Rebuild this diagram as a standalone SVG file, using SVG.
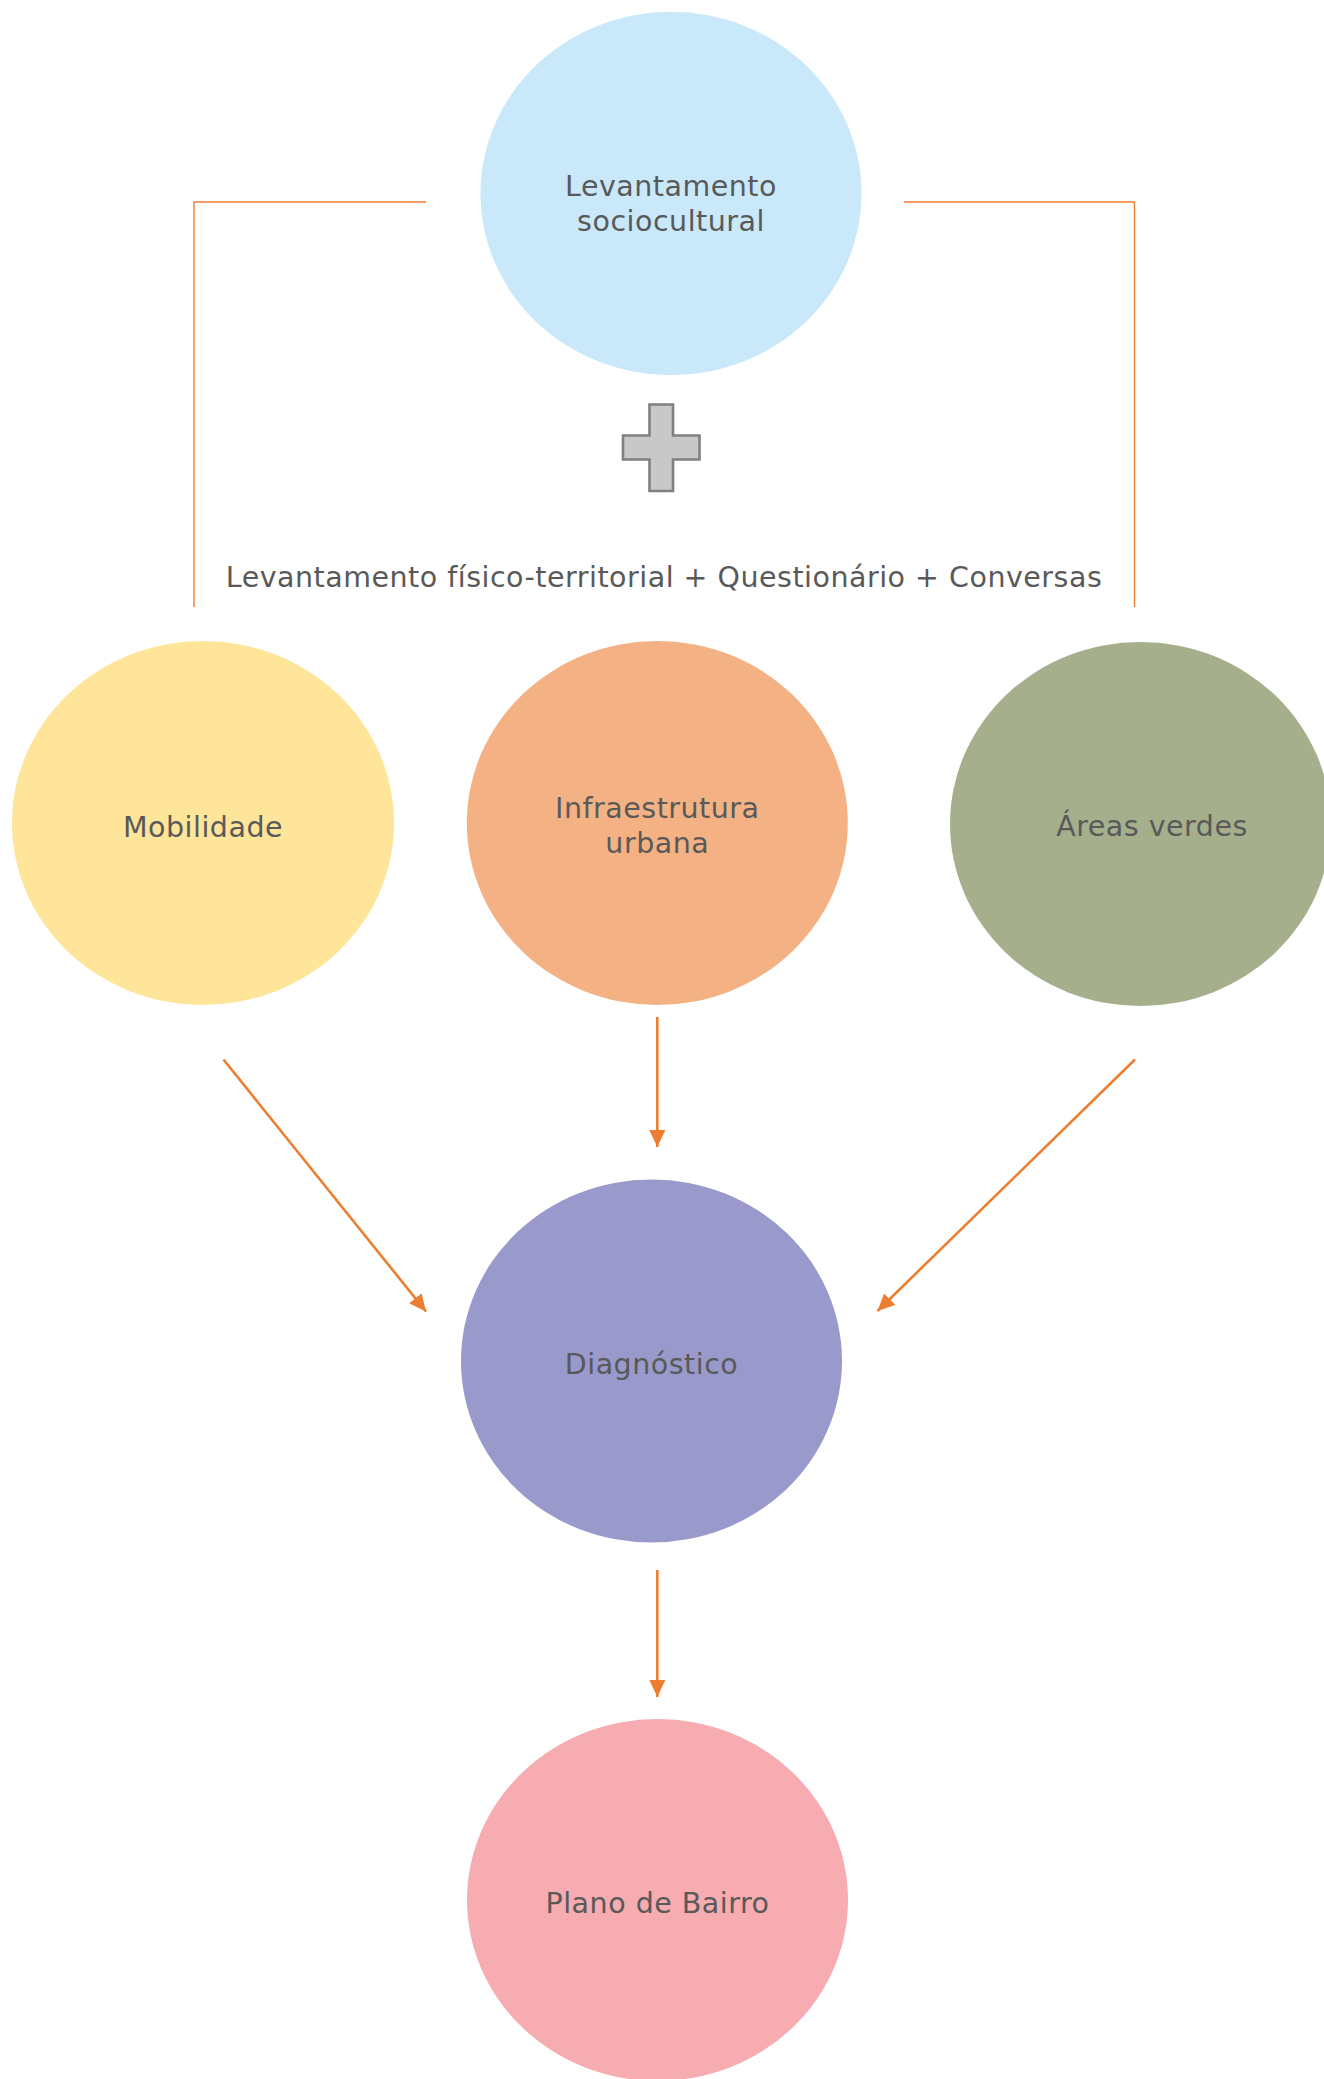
<svg xmlns="http://www.w3.org/2000/svg" width="1324" height="2079" viewBox="0 0 1324 2079">
  <style>
    .label { font-family: "DejaVu Sans", Verdana, sans-serif; font-size: 28.5px; letter-spacing: 0.5px; fill: #595959; text-anchor: middle; }
    .bracket { fill: none; stroke: #ED7D31; stroke-width: 1.4; }
    .arrow { fill: none; stroke: #ED7D31; stroke-width: 2.6; marker-end: url(#head); }
  </style>
  <defs>
    <marker id="head" markerUnits="userSpaceOnUse" markerWidth="18" markerHeight="16" viewBox="0 0 18 16" refX="17" refY="8" orient="auto">
      <path d="M0,0 L17,8 L0,16 Z" fill="#ED7D31"/>
    </marker>
  </defs>
  <rect width="1324" height="2079" fill="#FFFFFF"/>

  <!-- connectors -->
  <g id="connectors">
    <path class="bracket" d="M426,202 H194 V607"/>
    <path class="bracket" d="M904,202 H1134.5 V607"/>
    <path class="arrow" d="M657.3,1017 V1147"/>
    <path class="arrow" d="M657.3,1570 V1697"/>
    <path class="arrow" d="M223.5,1059.5 L426,1311.5"/>
    <path class="arrow" d="M1135,1059.5 L877.5,1311"/>
  </g>

  <g id="sociocultural">
    <ellipse cx="671" cy="193.5" rx="190.5" ry="181.7" fill="#C9E8FA"/>
    <text class="label" x="671" y="196">Levantamento</text>
    <text class="label" x="671" y="230.7">sociocultural</text>
  </g>

  <g id="plus">
    <path d="M649.5,404.5 H673 V435.5 H699.5 V459.5 H673 V491 H649.5 V459.5 H623 V435.5 H649.5 Z" fill="#C8C8C8" stroke="#808080" stroke-width="2.6"/>
  </g>

  <g id="caption">
    <text class="label" x="664" y="587">Levantamento físico-territorial + Questionário + Conversas</text>
  </g>

  <g id="mobilidade">
    <ellipse cx="203" cy="823" rx="191" ry="182" fill="#FFE599"/>
    <text class="label" x="203" y="837.3">Mobilidade</text>
  </g>

  <g id="infraestrutura">
    <ellipse cx="657.3" cy="823" rx="190.5" ry="182" fill="#F4B183"/>
    <text class="label" x="657.3" y="818.3">Infraestrutura</text>
    <text class="label" x="657.3" y="853.3">urbana</text>
  </g>

  <g id="areas-verdes">
    <ellipse cx="1140.5" cy="824" rx="190.5" ry="182" fill="#A5AF8C"/>
    <text class="label" x="1152" y="836">Áreas verdes</text>
  </g>

  <g id="diagnostico">
    <ellipse cx="651.5" cy="1361" rx="190.5" ry="181.6" fill="#9999CC"/>
    <text class="label" x="651.5" y="1374">Diagnóstico</text>
  </g>

  <g id="plano-de-bairro">
    <ellipse cx="657.5" cy="1900" rx="190.5" ry="181" fill="#F6ACB0"/>
    <text class="label" x="657.5" y="1913">Plano de Bairro</text>
  </g>
</svg>
